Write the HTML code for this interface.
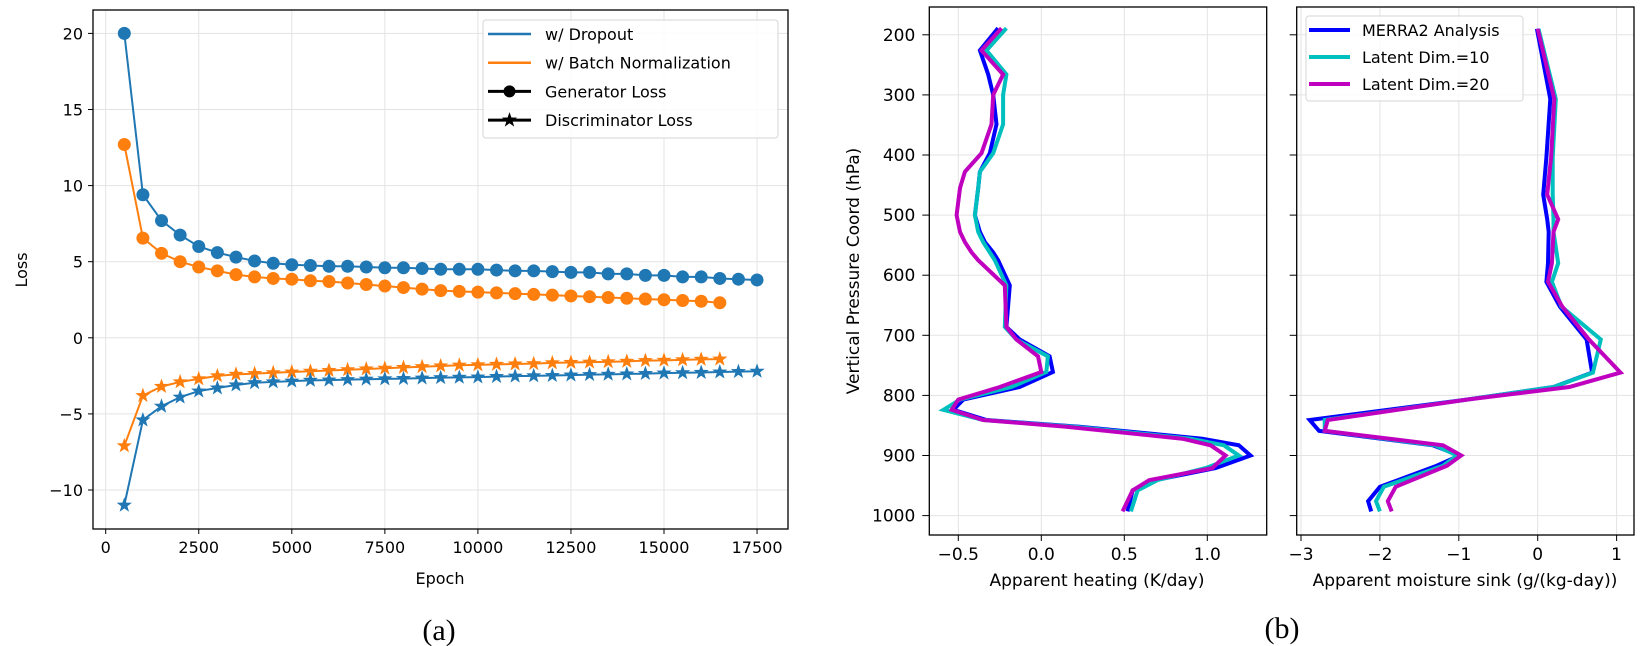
<!DOCTYPE html>
<html><head><meta charset="utf-8">
<style>
html,body{margin:0;padding:0;background:#fff;}
svg{display:block;font-family:"DejaVu Sans","Liberation Sans",sans-serif;}
</style></head>
<body>
<svg id="fig" width="1650" height="646" viewBox="0 0 1650 646">
  <g id="ga"></g>
  <g id="gb"></g>
  <g id="gc"></g>
  <text x="439" y="640" font-family="Liberation Serif, serif" font-size="30" text-anchor="middle">(a)</text>
  <text x="1282" y="638" font-family="Liberation Serif, serif" font-size="30" text-anchor="middle">(b)</text>
</svg>
<script>
// ---- Panel (a) data ----
const epochsDrop = [500,1000,1500,2000,2500,3000,3500,4000,4500,5000,5500,6000,6500,7000,7500,8000,8500,9000,9500,10000,10500,11000,11500,12000,12500,13000,13500,14000,14500,15000,15500,16000,16500,17000,17500];
const epochsBN = [500,1000,1500,2000,2500,3000,3500,4000,4500,5000,5500,6000,6500,7000,7500,8000,8500,9000,9500,10000,10500,11000,11500,12000,12500,13000,13500,14000,14500,15000,15500,16000,16500];
const genDropout = [20,9.4,7.7,6.75,6.0,5.6,5.3,5.05,4.9,4.8,4.75,4.7,4.7,4.65,4.6,4.6,4.55,4.5,4.5,4.5,4.45,4.4,4.4,4.35,4.3,4.3,4.2,4.2,4.1,4.1,4.0,4.0,3.9,3.85,3.8];
const genBN = [12.7,6.55,5.55,5.0,4.65,4.4,4.15,4.0,3.9,3.85,3.75,3.7,3.6,3.5,3.4,3.3,3.2,3.1,3.05,3.0,2.95,2.9,2.85,2.8,2.75,2.7,2.65,2.6,2.55,2.5,2.45,2.4,2.3];
const discBN = [-7.1,-3.8,-3.2,-2.9,-2.7,-2.5,-2.4,-2.35,-2.3,-2.25,-2.2,-2.15,-2.1,-2.05,-2.0,-1.95,-1.9,-1.85,-1.8,-1.78,-1.75,-1.72,-1.7,-1.65,-1.62,-1.6,-1.58,-1.55,-1.5,-1.48,-1.45,-1.42,-1.4];
const discDropout = [-11,-5.4,-4.5,-3.9,-3.5,-3.3,-3.1,-2.95,-2.9,-2.85,-2.8,-2.78,-2.75,-2.72,-2.7,-2.68,-2.65,-2.62,-2.6,-2.58,-2.55,-2.52,-2.5,-2.48,-2.45,-2.42,-2.4,-2.38,-2.35,-2.32,-2.3,-2.28,-2.25,-2.22,-2.2];
const xTicksA = [0,2500,5000,7500,10000,12500,15000,17500];
const yTicksA = [-10,-5,0,5,10,15,20];
// ---- Panel (b) data ----
const pressHeat = [189,226,266,300,349,397,428,455,500,528,545,562,575,617,686,707,735,761,786,807,824,841,852,872,883,900,921,941,958,993];
const heatMerra = [-0.26,-0.37,-0.32,-0.29,-0.27,-0.31,-0.37,-0.38,-0.40,-0.37,-0.34,-0.29,-0.26,-0.19,-0.21,-0.13,0.05,0.07,-0.13,-0.47,-0.53,-0.33,0.23,0.97,1.19,1.26,1.05,0.69,0.55,0.52];
const heatLat10 = [-0.21,-0.33,-0.21,-0.23,-0.23,-0.29,-0.37,-0.38,-0.40,-0.38,-0.35,-0.31,-0.28,-0.21,-0.22,-0.15,0.04,0.03,-0.18,-0.49,-0.59,-0.35,0.20,0.90,1.10,1.19,0.99,0.70,0.58,0.54];
const heatLat20 = [-0.24,-0.36,-0.23,-0.29,-0.30,-0.36,-0.46,-0.49,-0.51,-0.49,-0.46,-0.42,-0.38,-0.22,-0.21,-0.15,-0.02,0.00,-0.25,-0.50,-0.54,-0.35,0.15,0.85,1.02,1.11,1.03,0.65,0.55,0.49];
const pressMoist = [190,307,404,466,507,528,580,611,652,707,762,786,807,841,859,883,900,917,952,976,993];
const moistMerra = [-0.01,0.16,0.11,0.07,0.12,0.14,0.13,0.11,0.28,0.62,0.69,0.2,-0.9,-2.89,-2.77,-1.33,-0.99,-1.28,-2.0,-2.15,-2.11];
const moistLat10 = [0.01,0.23,0.19,0.19,0.2,0.2,0.26,0.18,0.3,0.8,0.7,0.2,-0.9,-2.7,-2.7,-1.3,-1.02,-1.2,-1.95,-2.05,-2.0];
const moistLat20 = [0.0,0.21,0.17,0.12,0.26,0.2,0.18,0.13,0.31,0.65,1.05,0.4,-0.9,-2.66,-2.7,-1.2,-0.97,-1.15,-1.8,-1.9,-1.85];
const pTicks = [200,300,400,500,600,700,800,900,1000];
const heatTicks = [-0.5,0.0,0.5,1.0];
const heatTickLabels = ["\u22120.5","0.0","0.5","1.0"];
const moistTicks = [-3,-2,-1,0,1];
const moistTickLabels = ["\u22123","\u22122","\u22121","0","1"];

const NS = "http://www.w3.org/2000/svg";
function mk(parent, tag, attrs, text){
  const e = document.createElementNS(NS, tag);
  for (const k in attrs) e.setAttribute(k, attrs[k]);
  if (text !== undefined) e.textContent = text;
  parent.appendChild(e);
  return e;
}
function minus(v){ return String(v).replace('-', '\u2212'); }

// ===== Panel A =====
(function(){
  const g = document.getElementById('ga');
  const L=93, R=788, T=10, B=529;
  const x = v => 105.7 + v * (93.05/2500);
  const y = v => 337.8 - v * 15.22;
  xTicksA.forEach(t=>{
    const gl = mk(g,'line',{x1:x(t),x2:x(t),y1:T,y2:B,stroke:'#e3e3e3','stroke-width':1});
    
    
    const tk = mk(g,'line',{x1:x(t),x2:x(t),y1:B,y2:B+5,stroke:'#000','stroke-width':1});
    
    
    const tl = mk(g,'text',{x:x(t),y:B+24,'font-size':16,'text-anchor':'middle'},String(t));
    
    
  });
  yTicksA.forEach(t=>{
    const gl = mk(g,'line',{x1:L,x2:R,y1:y(t),y2:y(t),stroke:'#e3e3e3','stroke-width':1});
    
    
    const tk = mk(g,'line',{x1:L-5,x2:L,y1:y(t),y2:y(t),stroke:'#000','stroke-width':1});
    
    
    const tl = mk(g,'text',{x:L-10,y:y(t)+6,'font-size':16,'text-anchor':'end'},minus(t));
    
    
  });
  function series(xs, ys, color, marker, name){
    const sg = mk(g,'g',{});
    
    
    const pts = xs.map((v,i)=>x(v)+','+y(ys[i])).join(' ');
    mk(sg,'polyline',{points:pts,fill:'none',stroke:color,'stroke-width':2});
    xs.forEach((v,i)=>{
      const cx=x(v), cy=y(ys[i]);
      let m;
      if (marker==='o') m = mk(sg,'circle',{cx:cx,cy:cy,r:6.5,fill:color});
      else {
        let p=[];
        for(let k=0;k<10;k++){const a=-Math.PI/2+k*Math.PI/5;const r=k%2?3.2:8;p.push((cx+r*Math.cos(a)).toFixed(1)+','+(cy+r*Math.sin(a)).toFixed(1));}
        m = mk(sg,'polygon',{points:p.join(' '),fill:color});
      }
      
      
    });
  }
  series(epochsBN, genBN, '#ff7f0e','o','bn-generator-loss');
  series(epochsDrop, genDropout, '#1f77b4','o','dropout-generator-loss');
  series(epochsBN, discBN, '#ff7f0e','*','bn-discriminator-loss');
  series(epochsDrop, discDropout, '#1f77b4','*','dropout-discriminator-loss');
  const frame = mk(g,'rect',{x:L,y:T,width:R-L,height:B-T,fill:'none',stroke:'#000','stroke-width':1.3});
  
  
  const xl = mk(g,'text',{x:440,y:584,'font-size':16,'text-anchor':'middle'},'Epoch');
  
  
  const yl = mk(g,'text',{x:0,y:0,'font-size':16,'text-anchor':'middle',transform:'translate(27,270) rotate(-90)'},'Loss');
  
  
  // legend
  const lg = mk(g,'g',{});
  
  
  mk(lg,'rect',{x:483,y:20,width:295,height:118,rx:3,fill:'#fff','fill-opacity':0.85,stroke:'#d6d6d6'});
  const entries = [['w/ Dropout','#1f77b4',null,2.5],['w/ Batch Normalization','#ff7f0e',null,2.5],['Generator Loss','#000','o',3],['Discriminator Loss','#000','*',3]];
  entries.forEach((e,i)=>{
    const yy = 34 + i*28.7;
    const eg = mk(lg,'g',{});
    
    
    mk(eg,'line',{x1:488,x2:531,y1:yy,y2:yy,stroke:e[1],'stroke-width':e[3]});
    if (e[2]==='o') mk(eg,'circle',{cx:509.5,cy:yy,r:6,fill:'#000'});
    if (e[2]==='*') { let p=[];for(let k=0;k<10;k++){const a=-Math.PI/2+k*Math.PI/5;const r=k%2?3.2:8;p.push((509.5+r*Math.cos(a)).toFixed(1)+','+(yy+r*Math.sin(a)).toFixed(1));} mk(eg,'polygon',{points:p.join(' '),fill:'#000'}); }
    mk(eg,'text',{x:545,y:yy+6,'font-size':16},e[0]);
  });
})();

// ===== Panels B =====
function profilePanel(gid, L, R, x0, perUnit, ticks, tickLabels, showYLabels, series, xTitle, xTitleX, legend){
  const g = document.getElementById(gid);
  const T=7, B=535;
  const x = v => x0 + v*perUnit;
  const y = p => 34.8 + (p-200)*0.601;
  ticks.forEach((t,i)=>{
    const gl = mk(g,'line',{x1:x(t),x2:x(t),y1:T,y2:B,stroke:'#e3e3e3','stroke-width':1});
    
    
    const tk = mk(g,'line',{x1:x(t),x2:x(t),y1:B,y2:B+6,stroke:'#000','stroke-width':1});
    
    
    const tl = mk(g,'text',{x:x(t),y:B+25,'font-size':17,'text-anchor':'middle'},tickLabels[i]);
    
    
  });
  pTicks.forEach(t=>{
    const gl = mk(g,'line',{x1:L,x2:R,y1:y(t),y2:y(t),stroke:'#e3e3e3','stroke-width':1});
    
    
    const tk = mk(g,'line',{x1:L-7,x2:L,y1:y(t),y2:y(t),stroke:'#000','stroke-width':1});
    
    
    if (showYLabels){
      const tl = mk(g,'text',{x:L-14,y:y(t)+6,'font-size':17,'text-anchor':'end'},String(t));
      
      
    }
  });
  series.forEach(s=>{
    const pts = s.p.map((p,i)=>x(s.v[i]).toFixed(1)+','+y(p).toFixed(1)).join(' ');
    const pl = mk(g,'polyline',{points:pts,fill:'none',stroke:s.c,'stroke-width':4,'stroke-linejoin':'miter'});
    
    
  });
  const frame = mk(g,'rect',{x:L,y:T,width:R-L,height:B-T,fill:'none',stroke:'#000','stroke-width':1.3});
  
  
  const xl = mk(g,'text',{x:xTitleX,y:586,'font-size':17,'text-anchor':'middle'},xTitle);
  
  
  if (showYLabels){
    const yl = mk(g,'text',{x:0,y:0,'font-size':17,'text-anchor':'middle',transform:'translate(859,271) rotate(-90)'},'Vertical Pressure Coord (hPa)');
    
    
  }
  if (legend){
    const lg = mk(g,'g',{});
    
    
    mk(lg,'rect',{x:1306,y:16,width:217,height:85,rx:3,fill:'#fff','fill-opacity':0.85,stroke:'#d6d6d6'});
    series.forEach((s,i)=>{
      const yy = 30 + i*27;
      const eg = mk(lg,'g',{});
      
      
      mk(eg,'line',{x1:1309,x2:1350,y1:yy,y2:yy,stroke:s.c,'stroke-width':4});
      mk(eg,'text',{x:1362,y:yy+6,'font-size':16},s.label);
    });
  }
}
profilePanel('gb', 929.3, 1266.7, 1041.3, 166, heatTicks, heatTickLabels, true, [
  {p:pressHeat, v:heatMerra, c:'#0000ff', n:'merra2-heating-line', label:'MERRA2 Analysis'},
  {p:pressHeat, v:heatLat10, c:'#00bfbf', n:'latent10-heating-line', label:'Latent Dim.=10'},
  {p:pressHeat, v:heatLat20, c:'#bf00bf', n:'latent20-heating-line', label:'Latent Dim.=20'}
], 'Apparent heating (K/day)', 1097, false);
profilePanel('gc', 1296.7, 1634, 1537.7, 78.9, moistTicks, moistTickLabels, false, [
  {p:pressMoist, v:moistMerra, c:'#0000ff', n:'merra2-moisture-line', label:'MERRA2 Analysis'},
  {p:pressMoist, v:moistLat10, c:'#00bfbf', n:'latent10-moisture-line', label:'Latent Dim.=10'},
  {p:pressMoist, v:moistLat20, c:'#bf00bf', n:'latent20-moisture-line', label:'Latent Dim.=20'}
], 'Apparent moisture sink (g/(kg-day))', 1465, true);
</script>
</body></html>
